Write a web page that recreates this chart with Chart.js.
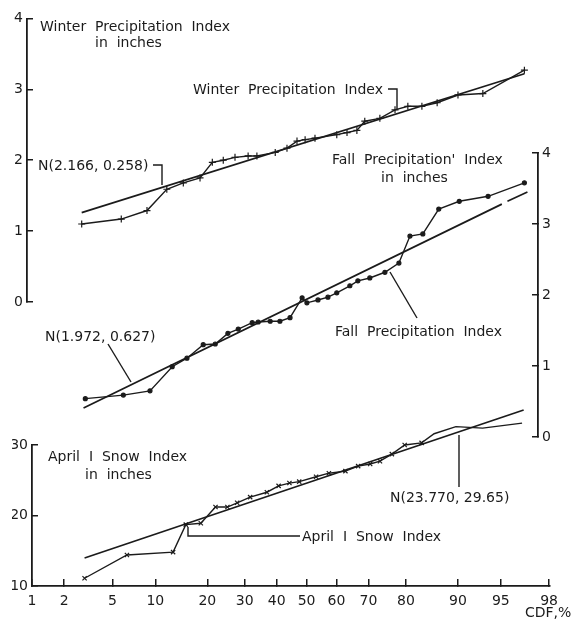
<!DOCTYPE html>
<html>
<head>
<meta charset="utf-8">
<script src="https://cdn.jsdelivr.net/npm/chart.js@4.4.1/dist/chart.umd.min.js"></script>
<style>
html, body { margin: 0; padding: 0; background: #fff; }
#wrap { position: relative; width: 572px; height: 623px; }
#wrap canvas { position: absolute; left: 0; top: 0; }
</style>
</head>
<body>
<div id="wrap">
  <canvas id="cWinter" width="572" height="623"></canvas>
  <canvas id="cFall" width="572" height="623"></canvas>
  <canvas id="cSnow" width="572" height="623"></canvas>
</div>
<script>
// ── Datos (CDF en %, valores en pulgadas) ───────────────────────────────────
var cdfTicks = [1, 2, 5, 10, 20, 30, 40, 50, 60, 70, 80, 90, 95, 98];

var winterCdf = [2.8, 5.7, 8.6, 11.5, 14.4, 17.8, 20.6, 23.3, 26.4, 30.1, 32.7, 38.4, 42.2, 45.5,
                 48.2, 51.5, 58.7, 62.0, 65.1, 67.5, 71.9, 76.0, 79.2, 82.4, 85.5, 89.1, 92.5, 96.3];
var winterVal = [1.10, 1.17, 1.29, 1.59, 1.68, 1.75, 1.97, 2.00, 2.04, 2.06, 2.06, 2.11, 2.17, 2.27,
                 2.29, 2.31, 2.36, 2.39, 2.42, 2.55, 2.59, 2.71, 2.76, 2.76, 2.81, 2.92, 2.94, 3.27];
var winterFitCdf = [2.8, 96.3];
var winterFitVal = [1.26, 3.22];

var fallCdf = [3.0, 5.9, 9.0, 12.4, 15.1, 18.5, 21.3, 24.5, 27.3, 31.3, 33.1, 36.8, 39.9, 43.2, 47.2,
               48.8, 52.5, 55.8, 58.7, 62.9, 65.4, 69.0, 73.3, 77.0, 79.7, 82.6, 85.8, 89.3, 93.1, 96.3];
var fallVal = [0.54, 0.59, 0.65, 0.99, 1.11, 1.30, 1.31, 1.46, 1.52, 1.61, 1.62, 1.63, 1.63, 1.68, 1.96,
               1.89, 1.93, 1.97, 2.03, 2.13, 2.20, 2.24, 2.32, 2.45, 2.83, 2.86, 3.21, 3.32, 3.39, 3.58];
var fallFitCdf = [2.9, 94.5, 94.7, 95.0, 96.5];
var fallFitVal = [0.41, 3.28, null, 3.32, 3.45];

var snowCdf = [3.0, 6.4, 12.9, 15.3, 18.5, 22.0, 25.1, 27.8, 31.6, 36.8, 40.6, 44.2, 47.5, 53.2,
               57.5, 62.9, 66.9, 70.5, 73.3, 76.5, 79.7, 83.5, 86.0, 89.7, 93.2, 96.6];
var snowVal = [11.1, 14.4, 14.8, 18.7, 18.9, 21.2, 21.2, 21.8, 22.6, 23.3, 24.2, 24.6, 24.8, 25.5,
               26.0, 26.3, 27.0, 27.3, 27.7, 28.7, 30.0, 30.3, 31.6, 32.6, 32.4, 33.1];
var snowFitCdf = [3.0, 96.7];
var snowFitVal = [13.97, 34.96];

// ── Estilo y geometría ──────────────────────────────────────────────────────
var INK    = '#1b1b1b';
var FONT   = 'DejaVu Sans';
var AXIS_W = 20;
var XAXIS_H = 30;
var X50 = 310.5;   // pixel del 50 %
var XPZ = 119.7;   // pixels por unidad normal

function zAt(px) { return (px - X50) / XPZ; }

// papel de probabilidad normal: CDF -> z
function probit(p) {
    var q = p < 0.5 ? p : 1 - p;
    var t = Math.sqrt(-2 * Math.log(q));
    var z = t - (2.515517 + 0.802853 * t + 0.010328 * t * t) /
                (1 + 1.432788 * t + 0.189269 * t * t + 0.001308 * t * t * t);
    return p < 0.5 ? -z : z;
}

function pts(cdf, val) {
    return cdf.map(function (c, i) { return { x: probit(c / 100), y: val[i] }; });
}

function seriesDs(cdf, val, style, radius) {
    return {
        data: pts(cdf, val), borderColor: INK, backgroundColor: INK,
        borderWidth: 1.4, pointStyle: style, pointRadius: radius,
        pointBorderWidth: 1.2, tension: 0, clip: false
    };
}

function fitDs(cdf, val) {
    return {
        data: pts(cdf, val), borderColor: INK, borderWidth: 1.7,
        pointRadius: 0, tension: 0, clip: false, spanGaps: false
    };
}

function yAxis(pos, min, max, step) {
    return {
        position: pos, min: min, max: max,
        afterFit: function (s) { s.width = AXIS_W; },
        border: { display: true, color: INK, width: 1.8 },
        grid: { drawOnChartArea: false, drawTicks: true, tickLength: -6, color: INK, lineWidth: 1.5 },
        ticks: { stepSize: step, padding: 10, color: INK, font: { family: FONT, size: 14 } }
    };
}

function xAxis(box, show) {
    return {
        type: 'linear', display: show,
        min: zAt(box.left), max: zAt(box.right),
        afterFit: function (s) { s.height = show ? XAXIS_H : 0; },
        afterBuildTicks: function (s) {
            s.ticks = cdfTicks.map(function (c) { return { value: probit(c / 100) }; });
        },
        border: { display: true, color: INK, width: 1.8 },
        grid: { drawOnChartArea: false, drawTicks: true, tickLength: -7, color: INK, lineWidth: 1.5 },
        ticks: {
            autoSkip: false, maxRotation: 0, padding: 14, color: INK,
            font: { family: FONT, size: 14 },
            callback: function (v, i) { return String(cdfTicks[i]); }
        }
    };
}

// textos y líneas guía
function notesPlugin(notes) {
    return {
        id: 'notes',
        afterDraw: function (chart) {
            var ctx = chart.ctx;
            ctx.save();
            ctx.fillStyle = INK;
            ctx.strokeStyle = INK;
            ctx.lineWidth = 1.4;
            ctx.font = '14px "' + FONT + '"';
            ctx.textBaseline = 'middle';
            ctx.textAlign = 'left';
            notes.texts.forEach(function (t) { ctx.fillText(t[0], t[1], t[2]); });
            notes.leaders.forEach(function (l) {
                ctx.beginPath();
                ctx.moveTo(l[0], l[1]);
                for (var k = 2; k < l.length; k += 2) ctx.lineTo(l[k], l[k + 1]);
                ctx.stroke();
            });
            ctx.restore();
        }
    };
}

function makeChart(id, box, yPos, yScale, showX, datasets, notes) {
    var pad = {
        left:   box.left - (yPos === 'left' ? AXIS_W : 0),
        right:  572 - box.right - (yPos === 'right' ? AXIS_W : 0),
        top:    box.top,
        bottom: 623 - box.bottom - (showX ? XAXIS_H : 0)
    };
    return new Chart(document.getElementById(id), {
        type: 'line',
        data: { datasets: datasets },
        options: {
            responsive: false, animation: false, events: [],
            layout: { padding: pad },
            plugins: { legend: { display: false }, tooltip: { enabled: false } },
            scales: { x: xAxis(box, showX), y: yScale }
        },
        plugins: [notesPlugin(notes)]
    });
}

// ── Invierno ────────────────────────────────────────────────────────────────
makeChart('cWinter', { left: 27, right: 557, top: 15, bottom: 302 }, 'left',
    yAxis('left', 0, 4, 1), false,
    [seriesDs(winterCdf, winterVal, 'cross', 3.5), fitDs(winterFitCdf, winterFitVal)],
    {
        texts: [
            ['Winter  Precipitation  Index', 40, 27],
            ['in  inches', 95, 43],
            ['Winter  Precipitation  Index', 193, 90],
            ['N(2.166, 0.258)', 38, 166]
        ],
        leaders: [
            [388, 89, 397, 89, 397, 109],
            [153, 165, 162, 165, 162, 185]
        ]
    });

// ── Otoño ───────────────────────────────────────────────────────────────────
makeChart('cFall', { left: 32, right: 538, top: 153, bottom: 437 }, 'right',
    yAxis('right', 0, 4, 1), false,
    [seriesDs(fallCdf, fallVal, 'circle', 2), fitDs(fallFitCdf, fallFitVal)],
    {
        texts: [
            ["Fall  Precipitation'  Index", 332, 160],
            ['in  inches', 381, 178],
            ['Fall  Precipitation  Index', 335, 332],
            ['N(1.972, 0.627)', 45, 337]
        ],
        leaders: [
            [390, 272, 417, 318],
            [108, 344, 131, 382]
        ]
    });

// ── Nieve 1 de abril ────────────────────────────────────────────────────────
makeChart('cSnow', { left: 32, right: 557, top: 445, bottom: 586 }, 'left',
    yAxis('left', 10, 30, 10), true,
    [seriesDs(snowCdf, snowVal, 'crossRot', 3), fitDs(snowFitCdf, snowFitVal)],
    {
        texts: [
            ['April  I  Snow  Index', 48, 457],
            ['in  inches', 85, 475],
            ['April  I  Snow  Index', 302, 537],
            ['N(23.770, 29.65)', 390, 498],
            ['CDF,%', 525, 613]
        ],
        leaders: [
            [188, 527, 188, 536, 300, 536],
            [459, 435, 459, 487]
        ]
    });
</script>
</body>
</html>
